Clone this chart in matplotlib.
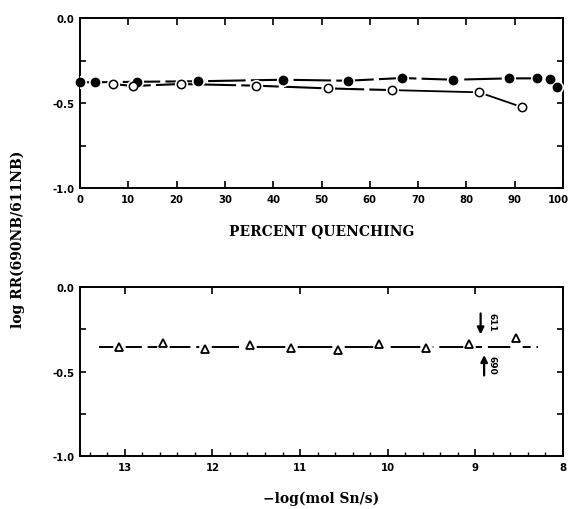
import matplotlib
matplotlib.use("Agg")
import matplotlib.pyplot as plt
import matplotlib.transforms as mtransforms
from matplotlib.ticker import MultipleLocator, FuncFormatter

# ---- data ----
filled_x = [0, 3.1, 11.9, 24.4, 42.1, 55.4, 66.6, 77.3, 88.9, 94.7, 97.3, 98.8]
filled_y = [-0.378, -0.378, -0.375, -0.372, -0.363, -0.369, -0.353, -0.363, -0.355, -0.355, -0.359, -0.408]
open_x = [6.9, 10.9, 20.9, 36.4, 51.4, 64.5, 82.6, 91.6]
open_y = [-0.388, -0.400, -0.388, -0.398, -0.414, -0.424, -0.437, -0.525]
tri_x = [13.07, 12.56, 12.08, 11.57, 11.10, 10.57, 10.10, 9.56, 9.07, 8.54]
tri_y = [-0.353, -0.331, -0.367, -0.341, -0.363, -0.371, -0.337, -0.359, -0.337, -0.304]
line_x = [13.29, 8.28]
line_level = -0.357
top_xticks = [0, 10, 20, 30, 40, 50, 60, 70, 80, 90, 100]
bot_xticks = [13, 12, 11, 10, 9, 8]

tick_font = dict(family="DejaVu Sans", weight="bold", size=7.3)
lab_font = dict(family="DejaVu Serif", weight="bold", size=10)

fig = plt.figure(figsize=(5.72, 5.10), dpi=100)
ax1 = fig.add_axes([0.1399, 0.6294, 0.8444, 0.3333])
ax2 = fig.add_axes([0.1399, 0.1039, 0.8444, 0.3314])

def yfmt(v, p):
    if abs(v * 2 - round(v * 2)) < 1e-6:
        return "%.1f" % v if v != 0 else "0.0"
    return ""

for ax in (ax1, ax2):
    for s in ax.spines.values():
        s.set_linewidth(1.4)
    ax.set_ylim(-1.0, 0.0)
    ax.yaxis.set_major_locator(MultipleLocator(0.25))
    ax.yaxis.set_major_formatter(FuncFormatter(yfmt))
    ax.tick_params(axis="both", which="major", direction="in", length=5, width=1.2,
                   top=True, right=True, pad=4)
    ax.tick_params(axis="y", which="major", length=4)

# ---- top panel ----
ax1.set_xlim(0, 100)
ax1.set_xticks(top_xticks)
ax1.plot(filled_x, filled_y, linestyle=(0, (18, 2.5)), color="black", lw=1.5, zorder=2)
ax1.plot(open_x[:6], open_y[:6], linestyle=(0, (18, 2.5)), color="black", lw=1.5, zorder=2)
ax1.plot(open_x[5:], open_y[5:], linestyle="-", color="black", lw=1.3, zorder=2)
ax1.plot(filled_x, filled_y, "o", ms=8.5, color="white", zorder=3, ls="none")
ax1.plot(open_x, open_y, "o", ms=8.5, color="white", zorder=3, ls="none")
ax1.plot(filled_x, filled_y, "o", ms=6, mfc="black", mec="black", ls="none", zorder=4,
         clip_on=False)
ax1.plot(open_x, open_y, "o", ms=6, mfc="white", mec="black", mew=1.1, ls="none", zorder=4)
ax1.set_xlabel("PERCENT QUENCHING", labelpad=14, **lab_font)

# ---- bottom panel ----
ax2.set_xlim(13.51, 8.0)
ax2.set_xticks(bot_xticks)
ax2.xaxis.set_minor_locator(MultipleLocator(0.2))
ax2.tick_params(axis="x", which="minor", direction="in", length=3, width=1.0, top=False)
ax2.plot(line_x, [line_level, line_level], linestyle=(0, (22, 3)), color="black", lw=1.4, zorder=2)
ax2.plot(tri_x, [line_level] * len(tri_x), "o", ms=8, color="white", ls="none", zorder=3)
ax2.plot(tri_x, tri_y, "^", ms=5.5, mfc="white", mec="black", mew=1.3, ls="none", zorder=4)
ax2.set_xlabel("\u2212log(mol Sn/s)", labelpad=14, **lab_font)

ax2.annotate("", xy=(8.94, -0.297), xytext=(8.94, -0.140),
             arrowprops=dict(arrowstyle="-|>", lw=1.6, color="black", mutation_scale=10))
ax2.annotate("", xy=(8.90, -0.386), xytext=(8.90, -0.540),
             arrowprops=dict(arrowstyle="-|>", lw=1.6, color="black", mutation_scale=10))
ax2.text(8.81, -0.205, "611", rotation=-90, ha="center", va="center",
         family="DejaVu Sans", weight="bold", size=6.5)
ax2.text(8.81, -0.458, "690", rotation=-90, ha="center", va="center",
         family="DejaVu Sans", weight="bold", size=6.5)

for ax in (ax1, ax2):
    for lab in ax.get_xticklabels() + ax.get_yticklabels():
        lab.set_fontfamily(tick_font["family"])
        lab.set_fontweight(tick_font["weight"])
        lab.set_fontsize(tick_font["size"])

# keep the last top tick label inside the figure
shift = mtransforms.ScaledTranslation(-3 / 72, 0, fig.dpi_scale_trans)
last = ax1.get_xticklabels()[-1]
last.set_transform(last.get_transform() + shift)

fig.text(0.032, 0.531, "log RR(690NB/611NB)", rotation=90, ha="center", va="center", **lab_font)

fig.savefig("out.png", dpi=100)
